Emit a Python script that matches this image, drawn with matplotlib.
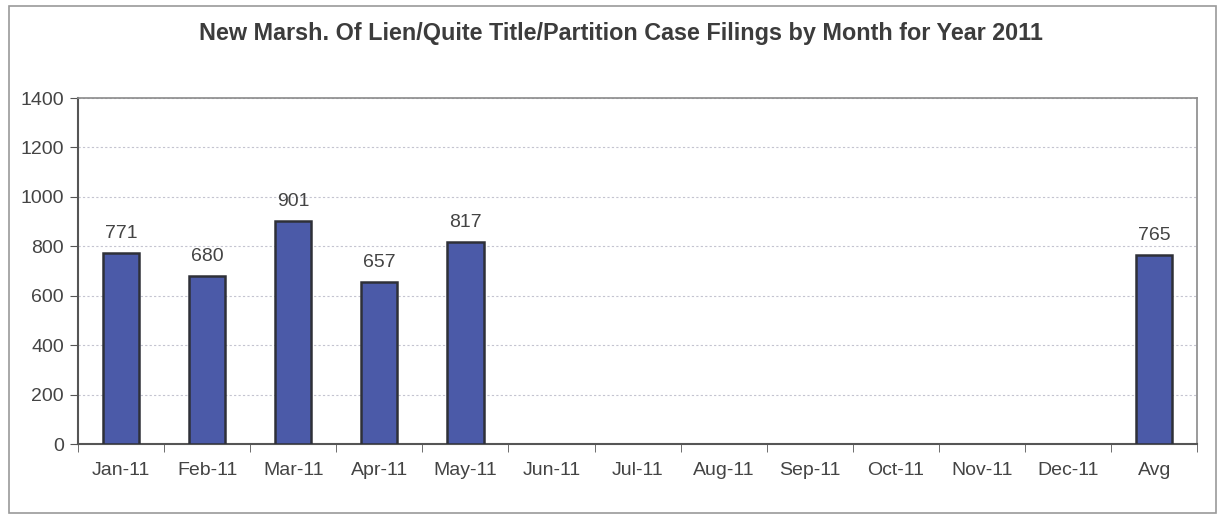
import matplotlib.pyplot as plt
from matplotlib.patches import Rectangle

months = ['Jan-11', 'Feb-11', 'Mar-11', 'Apr-11', 'May-11', 'Jun-11', 'Jul-11',
          'Aug-11', 'Sep-11', 'Oct-11', 'Nov-11', 'Dec-11', 'Avg']
filings = [771, 680, 901, 657, 817, None, None, None, None, None, None, None, 765]
title = 'New Marsh. Of Lien/Quite Title/Partition Case Filings by Month for Year 2011'

plt.rcParams['font.family'] = ['Liberation Sans', 'DejaVu Sans']
txt = '#444444'

fig = plt.figure(figsize=(12.28, 5.16), dpi=100)
ax = fig.add_axes([0.0635, 0.1395, 0.9115, 0.6705])

# outer frame like the pasted chart object
fig.patches.append(Rectangle((0.007, 0.006), 0.983, 0.982, transform=fig.transFigure,
                             fill=False, edgecolor='#9a9a9a', linewidth=1.2))

xs = [i for i, v in enumerate(filings) if v is not None]
vals = [v for v in filings if v is not None]
ax.bar(xs, vals, width=0.42, color='#4b5aa8', edgecolor='#2e3038', linewidth=1.8, zorder=3)
for x, v in zip(xs, vals):
    ax.text(x, v + 45, str(v), ha='center', va='bottom', fontsize=14, color=txt)

ax.set_xlim(-0.5, len(months) - 0.5)
ax.set_ylim(0, 1400)
ax.set_yticks(range(0, 1401, 200))
ax.set_xticks(range(len(months)))
ax.set_xticklabels(months)
ax.set_xticks([i + 0.5 for i in range(-1, len(months))], minor=True)
ax.tick_params(axis='x', which='major', length=0, pad=13, labelsize=14, labelcolor=txt)
ax.tick_params(axis='x', which='minor', length=6, color='#555555', direction='out')
ax.tick_params(axis='y', length=6, color='#555555', labelsize=14, labelcolor=txt, pad=4)

ax.grid(axis='y', linestyle=(0, (2, 2)), color='#c4c4d0', linewidth=0.8, zorder=0)
for s in ['top', 'right']:
    ax.spines[s].set_color('#8a8a8a')
    ax.spines[s].set_linewidth(1.2)
for s in ['left', 'bottom']:
    ax.spines[s].set_color('#555555')
    ax.spines[s].set_linewidth(1.5)

fig.text(0.506, 0.936, title, ha='center', va='center', fontsize=16.8,
         fontweight='bold', color='#3c3c3c')

fig.savefig('out.png', dpi=100)
